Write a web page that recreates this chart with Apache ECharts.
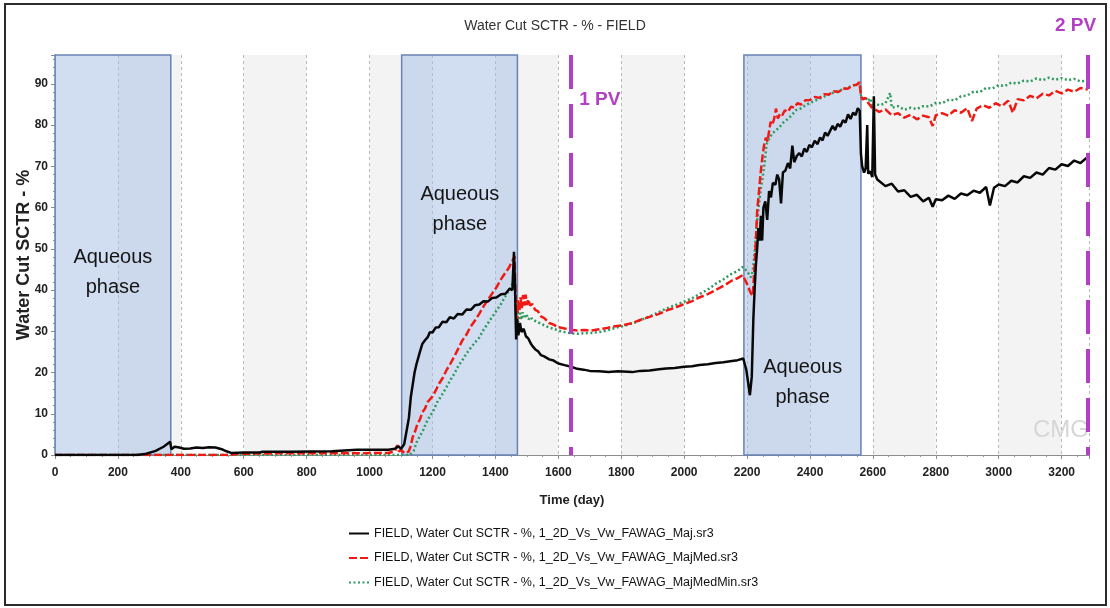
<!DOCTYPE html>
<html><head><meta charset="utf-8">
<script src="https://cdn.jsdelivr.net/npm/echarts@6/dist/echarts.min.js"></script>
<style>html,body{margin:0;padding:0;background:#fff}#c{width:1110px;height:608px}</style>
</head><body><div id="c"></div>
<script>
const chartTitle = 'Water Cut SCTR - % - FIELD';
const xName = 'Time (day)';
const yName = 'Water Cut SCTR - %';
const seriesNames = [
  'FIELD, Water Cut SCTR - %, 1_2D_Vs_Vw_FAWAG_Maj.sr3',
  'FIELD, Water Cut SCTR - %, 1_2D_Vs_Vw_FAWAG_MajMed.sr3',
  'FIELD, Water Cut SCTR - %, 1_2D_Vs_Vw_FAWAG_MajMedMin.sr3'
];
const xMin = 0, xMax = 3287, xStep = 200;
const yMin = 0, yMax = 97, yStep = 10;

// aqueous phase periods [startDay, endDay]
const aqueousPhases = [[0, 368], [1102, 1470], [2190, 2562]];
// label anchors [day, value]
const aqueousLabelAnchors = [[184, 44.2], [1287, 59.5], [2377, 17.6]];
// pore-volume markers
const pvDays = [1641, 3283];
const pvLabels = ['1 PV', '2 PV'];
const pvLabelAnchors = [[1732, 86.2], [3244, 104.1]];

// Maj (black)
const majData = [[0,0],[260,0],[290,0.3],[320,1.0],[345,2.0],[366,3.2],[370,1.4],[380,2.0],[395,1.8],[410,1.5],[430,1.6],[450,1.8],[470,1.7],[490,1.9],[510,1.8],[530,1.4],[545,0.9],[560,0.5],[600,0.6],[650,0.6],[660,0.8],[750,0.8],[880,0.9],[885,1.3],[960,1.3],[1060,1.3],[1080,1.5],[1092,2.1],[1100,1.5],[1110,2.6],[1118,6],[1125,9],[1131,14],[1137,17],[1143,20],[1149,22],[1160,25],[1168,27],[1178,28],[1185,28.6],[1192,29.8],[1200,29.7],[1210,30.9],[1220,31],[1232,32.3],[1244,32.2],[1255,33.4],[1268,33.1],[1280,34.2],[1295,34.1],[1308,35.3],[1322,35.2],[1335,36.3],[1349,36.5],[1362,37.3],[1376,37.2],[1390,38.1],[1403,38.2],[1418,39.0],[1432,39.1],[1445,40.3],[1454,40.0],[1459,49.3],[1462,42],[1466,28],[1469,33],[1473,29],[1478,32],[1483,29.8],[1490,30.6],[1497,28.8],[1505,28.2],[1512,27.1],[1518,26.4],[1527,25.6],[1535,25.2],[1545,24.2],[1555,23.9],[1571,23.2],[1585,22.9],[1600,22.2],[1620,21.8],[1641,21.4],[1660,20.9],[1680,20.7],[1700,20.4],[1730,20.3],[1760,20.1],[1790,20.3],[1835,20.1],[1860,20.4],[1890,20.5],[1920,20.8],[1943,21.0],[1970,21.1],[2000,21.4],[2025,21.5],[2048,21.8],[2075,22.0],[2100,22.3],[2125,22.5],[2152,22.8],[2170,23.0],[2188,23.4],[2198,20.5],[2209,14.5],[2215,19],[2220,33],[2224,40],[2228,46],[2232,50],[2236,55],[2240,52],[2244,58],[2248,52],[2252,60],[2258,61.5],[2264,57],[2270,64],[2276,62.5],[2282,66],[2290,65.5],[2296,68],[2302,66.8],[2308,61],[2314,68.5],[2322,69],[2330,70.8],[2337,69.5],[2344,75],[2350,71],[2358,72.5],[2366,73.2],[2374,72.4],[2382,74.3],[2390,73.5],[2398,75.2],[2406,74.6],[2415,76.2],[2424,75.4],[2432,77],[2440,76.3],[2448,78.2],[2456,77.4],[2464,78.6],[2472,79.8],[2480,78.8],[2488,80.3],[2496,79.6],[2505,81.2],[2513,80.6],[2521,82.6],[2529,81.5],[2537,83],[2545,82.4],[2552,84.1],[2558,83.5],[2562,73],[2566,70],[2572,68.5],[2577,69.5],[2582,80],[2585,68.2],[2592,68.8],[2598,67.4],[2603,87],[2607,68],[2614,66.8],[2620,66.5],[2640,65.2],[2660,65.8],[2680,63.9],[2700,64.2],[2720,62.6],[2740,63.1],[2760,61.5],[2778,62.4],[2790,60.2],[2800,62.0],[2820,61.8],[2840,62.9],[2860,62.1],[2880,63.4],[2900,63.0],[2920,64.1],[2940,63.6],[2960,65.0],[2972,60.5],[2985,64.8],[3000,65.6],[3020,65.2],[3040,66.5],[3060,66.1],[3080,67.6],[3100,67.2],[3120,68.5],[3140,68.0],[3160,69.6],[3180,69.2],[3200,70.5],[3220,70.1],[3240,71.4],[3260,70.8],[3283,72.3]];

// MajMed (red dashed)
const majMedData = [[0,0],[560,0],[580,0.3],[700,0.4],[900,0.4],[1060,0.5],[1080,0.9],[1088,2.4],[1093,0.9],[1100,1.2],[1112,0.4],[1124,0.8],[1130,2.0],[1137,4.3],[1145,5.8],[1152,7.5],[1160,8.6],[1168,10.4],[1176,11.2],[1184,12.8],[1190,12.6],[1200,14.2],[1210,15.6],[1220,17.2],[1232,18.6],[1244,20.5],[1256,22.0],[1270,24.0],[1282,25.8],[1295,27.8],[1308,29.2],[1320,31],[1335,32.6],[1349,34.3],[1362,36.0],[1375,37.5],[1390,39.2],[1403,40.6],[1416,42.4],[1430,44],[1442,45.3],[1454,47.1],[1461,48.2],[1465,36],[1468,30],[1472,37.5],[1476,35.2],[1480,38.2],[1484,35.6],[1488,38.8],[1492,36.2],[1496,38.9],[1500,36.4],[1504,37.8],[1510,36.3],[1518,36.6],[1526,35.2],[1535,34.9],[1545,33.6],[1557,33.1],[1571,32],[1585,31.6],[1600,31],[1620,30.7],[1641,30.4],[1660,30.2],[1680,30.3],[1705,30.2],[1730,30.5],[1755,30.8],[1780,31.2],[1808,31.5],[1835,32],[1862,32.8],[1890,33.5],[1916,34.1],[1943,35],[1970,35.7],[2000,36.6],[2025,37.3],[2048,38.2],[2075,39.0],[2100,40],[2125,41.0],[2152,42.3],[2170,42.9],[2186,43.6],[2200,41.5],[2212,39.2],[2218,38.6],[2224,46],[2228,52],[2232,59],[2238,64],[2244,69],[2250,73],[2255,75.6],[2260,77],[2265,76],[2270,78.5],[2275,80.8],[2280,80],[2286,81.5],[2292,84],[2298,81.6],[2305,82.8],[2312,82.4],[2320,83.6],[2330,83.2],[2340,84.5],[2350,84.2],[2360,85.3],[2372,85.0],[2385,86.0],[2400,86.1],[2415,86.8],[2430,86.6],[2445,87.5],[2460,87.4],[2475,88.2],[2490,88.0],[2505,88.9],[2520,88.8],[2535,89.6],[2548,89.8],[2558,90.4],[2562,87],[2568,86.2],[2576,86.6],[2585,85.4],[2596,84.3],[2600,84.5],[2620,83.2],[2640,83.8],[2660,82.4],[2680,82.9],[2700,81.8],[2720,82.5],[2740,81.4],[2760,82.3],[2778,81.9],[2790,79.8],[2800,82.4],[2820,82.9],[2840,82.3],[2860,83.6],[2880,83.0],[2900,84.1],[2915,81.0],[2930,84.0],[2950,84.8],[2970,84.2],[2990,85.3],[3010,84.6],[3030,85.9],[3045,83.0],[3060,86.3],[3080,86.0],[3100,87.1],[3120,86.5],[3140,87.6],[3160,87.2],[3180,88.3],[3200,87.7],[3220,88.6],[3240,88.1],[3260,89.0],[3283,88.6]];

// MajMedMin (green dotted)
const majMedMinData = [[0,0],[1128,0],[1140,1],[1149,3],[1160,4.6],[1170,6],[1180,7.8],[1190,9.2],[1202,10.6],[1215,12.8],[1228,14.3],[1244,16.4],[1257,18.2],[1270,19.8],[1282,21.6],[1295,23],[1308,24.6],[1320,25.8],[1335,27.3],[1349,28.5],[1362,30.3],[1375,31.8],[1390,33.5],[1403,35],[1416,36.4],[1430,38.3],[1442,39.8],[1454,41.5],[1462,42.6],[1466,30],[1469,35],[1473,32.2],[1477,35.4],[1482,32.8],[1487,34.6],[1492,33.1],[1498,34.2],[1505,32.9],[1512,33.5],[1518,32.8],[1530,32.4],[1545,31.8],[1557,31.4],[1571,30.9],[1585,30.6],[1600,30.2],[1620,29.8],[1641,29.5],[1660,29.4],[1680,29.5],[1705,29.6],[1730,29.8],[1755,30.2],[1780,30.8],[1808,31.3],[1835,31.9],[1862,32.7],[1890,33.6],[1916,34.5],[1943,35.5],[1970,36.3],[2000,37.2],[2025,38.0],[2048,39],[2075,40.1],[2100,41.5],[2125,42.6],[2152,44],[2170,44.6],[2186,45.6],[2200,44.6],[2212,43.1],[2218,44.5],[2224,49],[2232,56.8],[2238,61],[2244,64.7],[2250,67.5],[2256,71],[2262,75.4],[2270,76.6],[2280,78],[2290,78.6],[2302,79.4],[2315,80.6],[2330,81.5],[2342,82.4],[2355,83.6],[2370,84.0],[2385,84.8],[2400,85.4],[2415,85.9],[2430,86.4],[2445,86.9],[2460,87.4],[2475,87.9],[2490,88.3],[2510,88.8],[2530,89.4],[2548,89.9],[2558,90.1],[2562,87.2],[2568,86.4],[2576,86.8],[2585,85.8],[2592,86.5],[2596,84.8],[2600,85.5],[2620,84.8],[2640,85.3],[2655,87.8],[2660,84.2],[2680,84.6],[2700,83.7],[2720,84.2],[2740,83.9],[2760,84.6],[2780,84.5],[2800,85.4],[2820,85.3],[2842,86.2],[2860,86.0],[2880,87.0],[2900,87.2],[2920,88.1],[2940,88.0],[2960,89.0],[2980,88.9],[3000,89.7],[3020,89.5],[3040,90.3],[3060,90.1],[3080,90.8],[3100,90.6],[3120,91.3],[3140,90.9],[3160,91.5],[3180,91.0],[3200,91.4],[3220,90.9],[3240,91.2],[3260,90.6],[3283,90.8]];

const SANS = "'Liberation Sans', Arial, sans-serif";
const PURPLE = '#b23fc4';

const chart = echarts.init(document.getElementById('c'), null, {renderer: 'canvas'});

const lineBase = {type: 'line', symbol: 'none', showSymbol: false, silent: true, z: 3};

const option = {
  animation: false,
  backgroundColor: '#ffffff',
  title: {
    text: chartTitle, left: 'center', top: 14,
    textStyle: {fontFamily: SANS, fontSize: 14, fontWeight: 'normal', color: '#333'}
  },
  grid: {left: 55, right: 21, top: 55, bottom: 153, outerBoundsMode: 'none'},
  legend: {
    orient: 'vertical', left: 348, top: 527, padding: 0, itemWidth: 20, itemHeight: 14, itemGap: 11.5,
    data: seriesNames,
    itemStyle: {opacity: 0},
    textStyle: {fontFamily: SANS, fontSize: 12.5, color: '#111'}
  },
  xAxis: {
    type: 'value', min: xMin, max: xMax, interval: xStep,
    name: xName, nameLocation: 'middle', nameGap: 39, nameMoveOverlap: false,
    nameTextStyle: {fontFamily: SANS, fontWeight: 'bold', fontSize: 13, color: '#222'},
    axisLine: {show: true, onZero: false, lineStyle: {color: '#8c8c8c', width: 1}},
    axisTick: {show: true, length: 4, lineStyle: {color: '#8c8c8c'}},
    minorTick: {show: true, splitNumber: 4, length: 2, lineStyle: {color: '#999'}},
    axisLabel: {showMaxLabel: false, margin: 12, fontFamily: SANS, fontWeight: 'bold', fontSize: 12, color: '#222',
                formatter: v => String(v)},
    splitLine: {show: true, lineStyle: {type: [3, 3], color: '#b8b8b8', width: 1}},
    splitArea: {show: true, areaStyle: {color: ['#ffffff', '#f3f3f3']}}
  },
  yAxis: {
    type: 'value', min: yMin, max: yMax, interval: yStep,
    name: yName, nameLocation: 'middle', nameRotate: 90, nameGap: 22, nameMoveOverlap: false,
    nameTextStyle: {fontFamily: SANS, fontWeight: 'bold', fontSize: 18, color: '#222'},
    axisLine: {show: true, onZero: false, lineStyle: {color: '#8c8c8c', width: 1}},
    axisTick: {show: true, length: 4, lineStyle: {color: '#8c8c8c'}},
    minorTick: {show: true, splitNumber: 5, length: 2, lineStyle: {color: '#999'}},
    axisLabel: {showMaxLabel: false, margin: 7, fontFamily: SANS, fontWeight: 'bold', fontSize: 12, color: '#222',
                formatter: v => String(v)},
    splitLine: {show: true, lineStyle: {type: [3, 3], color: '#b8b8b8', width: 1}}
  },
  graphic: [
    {type: 'text', left: 1033, top: 418, silent: true, z: 2,
     style: {text: 'CMG', font: "24px " + SANS, fill: '#d6d6d6'}},
    {type: 'rect', silent: true, z: 100,
     shape: {x: 5, y: 4, width: 1101, height: 601},
     style: {fill: 'transparent', stroke: '#2b2b2b', lineWidth: 2}}
  ],
  series: [
    {
      name: 'phaseAreas', type: 'scatter', silent: true, symbolSize: 0, z: 1,
      data: [],
      markArea: {
        silent: true,
        itemStyle: {color: 'rgba(172,194,232,0.55)', borderColor: '#6882b4', borderWidth: 1.5},
        data: aqueousPhases.map(p => [{xAxis: p[0]}, {xAxis: p[1]}])
      }
    },
    Object.assign({}, lineBase, {
      name: seriesNames[2], data: majMedMinData,
      lineStyle: {color: '#2f9a60', width: 2.5, type: [2, 2.5]},
      itemStyle: {color: '#2f9a60'}
    }),
    Object.assign({}, lineBase, {
      name: seriesNames[1], data: majMedData,
      lineStyle: {color: '#f01a14', width: 2.5, type: [8, 3]},
      itemStyle: {color: '#f01a14'}
    }),
    Object.assign({}, lineBase, {
      name: seriesNames[0], data: majData,
      lineStyle: {color: '#080808', width: 2.5},
      itemStyle: {color: '#080808'}
    }),
    {
      name: 'phaseLabels', type: 'scatter', silent: true, clip: false, symbolSize: 0, z: 10,
      itemStyle: {opacity: 1},
      data: aqueousLabelAnchors,
      label: {show: true, position: 'inside', formatter: 'Aqueous\nphase',
              fontFamily: SANS, fontSize: 20, lineHeight: 30, color: '#151515'}
    },
    {
      name: 'pv', type: 'scatter', silent: true, clip: false, symbolSize: 0, z: 10,
      itemStyle: {opacity: 1},
      data: pvLabelAnchors.map((a, i) => ({value: a, name: pvLabels[i]})),
      label: {show: true, position: 'inside', formatter: '{b}',
              fontFamily: SANS, fontWeight: 'bold', fontSize: 19, color: PURPLE},
      markLine: {
        silent: true, symbol: ['none', 'none'], z: 6,
        label: {show: false},
        lineStyle: {color: PURPLE, width: 4, type: [34, 15]},
        data: pvDays.map(d => [{coord: [d, yMax]}, {coord: [d, yMin]}])
      }
    }
  ]
};
chart.setOption(option);
</script>
</body></html>
